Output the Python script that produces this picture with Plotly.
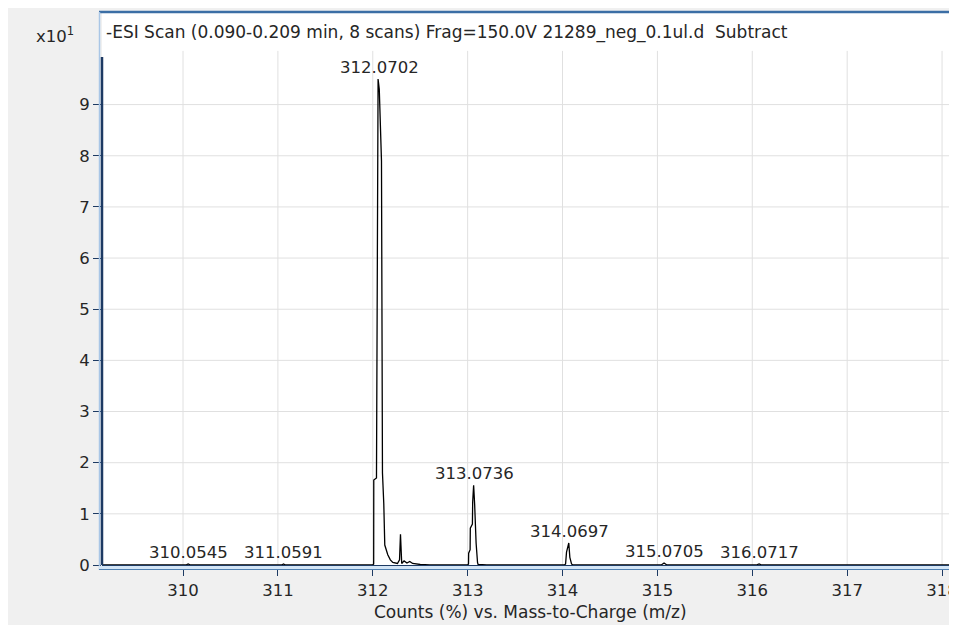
import plotly.graph_objects as go

# ---------------- data ----------------
mz = [309.15, 310.03, 310.054, 310.08, 311.04, 311.059, 311.08,
      312.000, 312.0095, 312.0105, 312.039, 312.0495, 312.0559, 312.0685, 312.0759,
      312.0917, 312.1022, 312.116, 312.1265, 312.14, 312.158, 312.185, 312.211,
      312.26, 312.282, 312.292, 312.298, 312.305, 312.33, 312.36, 312.39, 312.42,
      312.5, 312.6,
      313.0, 313.009, 313.0105, 313.026, 313.028, 313.050, 313.053, 313.063,
      313.074, 313.087, 313.089, 313.104, 313.11, 313.2,
      314.02, 314.032, 314.042, 314.066, 314.077, 314.095, 314.11,
      315.04, 315.07, 315.10, 316.04, 316.072, 316.10, 318.105]
intensity = [0.0, 0.0, 0.02, 0.0, 0.0, 0.02, 0.0,
             0.0, 0.02, 1.66, 1.70, 7.9, 9.5, 9.3, 8.8,
             7.9, 1.8, 1.2, 0.39, 0.3, 0.2, 0.1, 0.05,
             0.03, 0.1, 0.6, 0.2, 0.03, 0.08, 0.04, 0.07, 0.03,
             0.01, 0.0,
             0.0, 0.02, 0.23, 0.3, 0.72, 0.8, 1.23, 1.56,
             1.17, 0.5, 0.43, 0.05, 0.01, 0.0,
             0.0, 0.02, 0.25, 0.43, 0.15, 0.02, 0.0,
             0.0, 0.04, 0.0, 0.0, 0.02, 0.0, 0.0]

peak_labels = ["310.0545", "311.0591", "312.0702", "313.0736",
               "314.0697", "315.0705", "316.0717"]
peak_mz = [310.0545, 311.0591, 312.0702, 313.0736, 314.0697, 315.0705, 316.0717]
peak_height = [0.02, 0.02, 9.5, 1.56, 0.43, 0.04, 0.02]

x_ticks = [310, 311, 312, 313, 314, 315, 316, 317, 318]
y_ticks = [0, 1, 2, 3, 4, 5, 6, 7, 8, 9]

title_text = "-ESI Scan (0.090-0.209 min, 8 scans) Frag=150.0V 21289_neg_0.1ul.d  Subtract"
x_title = "Counts (%) vs. Mass-to-Charge (m/z)"
y_scale = "x10<sup>1</sup>"

# ---------------- layout geometry ----------------
OFF = 8                      # page body margin
W, H = 957, 625
L, R, T, B = 94, 13, 4, 68
PW, PH = W - L - R, H - T - B
X_RANGE = [309.146, 318.105]
Y_RANGE = [0, 10.81]
FONT = "DejaVu Sans"
TXT = "#262626"
NAVY = "#1d3a63"
NUM_SIZE = 16.5
TXT_SIZE = 17


def px(xs):
    """screen x pixel -> paper fraction"""
    return (xs - OFF - L) / PW


def py(ys):
    """screen y pixel -> paper fraction"""
    return (H - B - (ys - OFF)) / PH


fig = go.Figure()
fig.add_trace(go.Scatter(x=mz, y=intensity, mode="lines",
                         line=dict(color="black", width=1.3),
                         hoverinfo="skip", showlegend=False))

shapes = []
# grid lines
for xv in x_ticks:
    shapes.append(dict(type="line", xref="x", yref="y", x0=xv, x1=xv, y0=0, y1=10.05,
                       line=dict(color="#e0e0e0", width=1), layer="below"))
for yv in y_ticks[1:]:
    shapes.append(dict(type="line", xref="paper", yref="y", x0=0, x1=1, y0=yv, y1=yv,
                       line=dict(color="#e0e0e0", width=1), layer="below"))
# frame
shapes.append(dict(type="line", xref="paper", yref="paper", x0=px(99), x1=1, y0=1, y1=1,
                   line=dict(color="#3b6ea5", width=2.5)))
shapes.append(dict(type="line", xref="paper", yref="paper", x0=1, x1=1, y0=0, y1=1,
                   line=dict(color="#a9c6e6", width=2)))
shapes.append(dict(type="line", xref="paper", yref="paper", x0=px(99.5), x1=px(99.5), y0=py(570), y1=1,
                   line=dict(color="#a9c6e6", width=1.5)))
# y axis line (only up to 10)
shapes.append(dict(type="line", xref="paper", yref="y", x0=px(102), x1=px(102), y0=0, y1=9.93,
                   line=dict(color=NAVY, width=2.5)))
# x axis composite band
shapes.append(dict(type="rect", xref="paper", yref="paper", x0=px(99), x1=1, y0=py(569), y1=py(566),
                   fillcolor="#d3e5f6", line_width=0))
shapes.append(dict(type="line", xref="paper", yref="paper", x0=px(99), x1=1, y0=py(569.5), y1=py(569.5),
                   line=dict(color="#4f7fb0", width=1)))

annotations = []
for lab, xm, h in zip(peak_labels, peak_mz, peak_height):
    annotations.append(dict(x=xm, y=h, xref="x", yref="y", text=lab, showarrow=False,
                            xanchor="center", yanchor="bottom", yshift=0,
                            font=dict(family=FONT, size=NUM_SIZE, color=TXT)))
annotations.append(dict(x=px(104), y=py(33), xref="paper", yref="paper", text=title_text,
                        showarrow=False, xanchor="left", yanchor="middle",
                        font=dict(family=FONT, size=TXT_SIZE, color=TXT)))
annotations.append(dict(x=px(76), y=py(35), xref="paper", yref="paper", text=y_scale,
                        showarrow=False, xanchor="right", yanchor="middle",
                        font=dict(family=FONT, size=NUM_SIZE, color=TXT)))
annotations.append(dict(x=px(530), y=py(612), xref="paper", yref="paper", text=x_title,
                        showarrow=False, xanchor="center", yanchor="middle",
                        font=dict(family=FONT, size=TXT_SIZE, color=TXT)))

fig.update_layout(
    width=W, height=H,
    margin=dict(l=L, r=R, t=T, b=B, pad=0),
    paper_bgcolor="#f0f0f0", plot_bgcolor="white",
    shapes=shapes, annotations=annotations,
    showlegend=False,
    xaxis=dict(range=X_RANGE, tickvals=x_ticks, ticktext=[str(v) for v in x_ticks],
               showgrid=False, zeroline=False, showline=True, linecolor=NAVY, linewidth=2.5,
               ticks="outside", ticklen=8, tickwidth=1, tickcolor=NAVY,
               ticklabeloverflow="allow",
               tickfont=dict(family=FONT, size=NUM_SIZE, color=TXT)),
    yaxis=dict(range=Y_RANGE, tickvals=y_ticks, ticktext=[str(v) for v in y_ticks],
               showgrid=False, zeroline=False, showline=False,
               ticks="outside", ticklen=8, tickwidth=1, tickcolor=NAVY,
               tickfont=dict(family=FONT, size=NUM_SIZE, color=TXT)),
)

fig.write_html("out.html")
